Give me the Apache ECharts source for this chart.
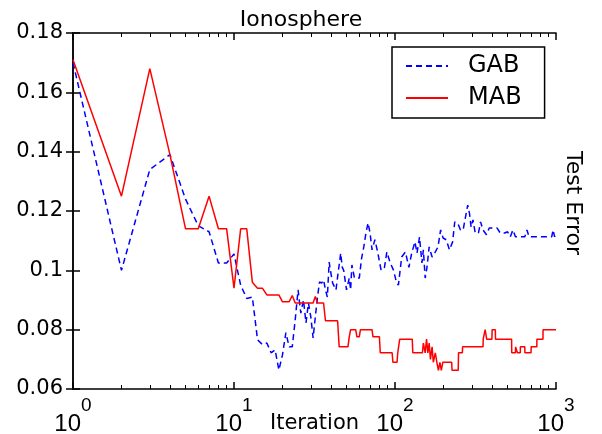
<!DOCTYPE html>
<html><head><meta charset="utf-8">
<script src="https://cdn.jsdelivr.net/npm/echarts@6/dist/echarts.min.js"></script>
<style>html,body{margin:0;padding:0;background:#fff;}#c{width:602px;height:434px;}</style>
</head><body><div id="c"></div>
<script>
const titleText = 'Ionosphere';
const xName = 'Iteration';
const yName = 'Test Error';
const seriesNames = ['GAB', 'MAB'];
const yMin = 0.06, yMax = 0.18, yStep = 0.02;
const xMin = 1, xMax = 1000;
const minorTickIters = [2,3,4,5,6,7,8,9,20,30,40,50,60,70,80,90,200,300,400,500,600,700,800,900];

const gabIter = [
  1,2,3,4,5,6,7,8,9,10,
  11,12,13,14,15,16,17,18,19,20,
  21,22,23,24,25,26,27,28,29,30,
  31,32,33,34,35,36,37,38,39,40,
  41,43,44,46,47,48,50,52,53,54,
  56,58,60,62,64,66,68,70,72,75,
  78,82,86,89,93,98,102,105,110,116,
  122,127,133,137,142,147,150,154,158,163,
  170,178,185,192,199,208,218,228,235,245,
  255,265,272,283,290,297,305,315,330,340,
  352,370,385,400,430,450,480,500,520,540,
  560,600,640,660,680,750,800,850,900,940,
  960,980,1000
];
const gabErr = [
  0.170,0.100,0.134,0.139,0.124,0.115,0.113,0.1025,0.1025,0.1055,
  0.095,0.0905,0.091,0.0766,0.075,0.0755,0.0722,0.0732,0.0664,0.0715,
  0.079,0.0742,0.0742,0.0833,0.0934,0.0856,0.090,0.0823,0.089,0.0843,
  0.0772,0.0843,0.091,0.0961,0.0957,0.0968,0.0934,0.091,0.1028,0.099,
  0.0957,0.0934,0.0978,0.1058,0.1011,0.100,0.0934,0.0974,0.0934,0.1018,
  0.0974,0.0974,0.0974,0.104,0.1079,0.1126,0.116,0.1126,0.1069,0.1103,
  0.1062,0.100,0.101,0.1062,0.1028,0.100,0.096,0.095,0.1045,0.1062,
  0.101,0.1058,0.1096,0.1058,0.1112,0.1025,0.1069,0.0974,0.101,0.1079,
  0.1045,0.1062,0.1079,0.1136,0.1109,0.1103,0.1069,0.1096,0.1163,0.116,
  0.1136,0.1136,0.117,0.122,0.1193,0.1146,0.117,0.1126,0.1126,0.1163,
  0.1136,0.112,0.1143,0.1143,0.1143,0.1126,0.1126,0.113,0.1113,0.1136,
  0.1113,0.1113,0.1113,0.1136,0.1113,0.1113,0.1113,0.1113,0.1113,0.1113,
  0.1136,0.1113,0.1125
];

const mabIter = [
  1,2,3,4,5,6,7,8,9,10,
  11,12,13,14,15,16,19,20,22,23,
  24,31,32,33,36,37,44,45,51,52,
  53,57,58,60,61,72,73,80,81,96,
  97,103,104,106,107,128,129,148,150,153,
  154,157,160,163,166,170,173,178,182,186,
  190,194,198,225,226,247,248,262,263,352,
  353,362,363,370,371,400,401,420,421,530,
  531,560,561,575,576,600,601,640,641,700,
  701,760,761,830,831,1000
];
const mabErr = [
  0.171,0.125,0.168,0.139,0.114,0.114,0.125,0.114,0.114,0.094,
  0.114,0.114,0.096,0.094,0.094,0.0917,0.0917,0.0894,0.0894,0.0915,
  0.089,0.089,0.0912,0.089,0.089,0.083,0.083,0.0742,0.0742,0.0776,
  0.080,0.080,0.0776,0.0776,0.080,0.080,0.0776,0.0776,0.0722,0.0722,
  0.069,0.069,0.0722,0.0722,0.0768,0.0768,0.0722,0.0722,0.0755,0.0755,
  0.0722,0.0768,0.0722,0.0755,0.070,0.0742,0.069,0.0722,0.069,0.0663,
  0.069,0.0663,0.069,0.069,0.0663,0.0663,0.0722,0.0722,0.0742,0.0742,
  0.0768,0.0768,0.080,0.080,0.0768,0.0768,0.080,0.080,0.0768,0.0768,
  0.0722,0.0722,0.0742,0.0742,0.0722,0.0722,0.0742,0.0742,0.0722,0.0722,
  0.0742,0.0742,0.0768,0.0768,0.080,0.080
];

const FONT = 'DejaVu Sans';
const black = '#000';
const lineW = 1.5;
const axLine = {show: true, lineStyle: {color: black, width: lineW}};
const majorTick = {show: true, inside: true, length: 7, lineStyle: {color: black, width: lineW}};
const minorTickExp = minorTickIters.map(v => Math.log10(v));

const chart = echarts.init(document.getElementById('c'), null, {renderer: 'canvas'});
chart.setOption({
  animation: false,
  backgroundColor: '#fff',
  title: {
    text: titleText, left: 'center', top: 4,
    textStyle: {fontFamily: FONT, fontSize: 22, fontWeight: 'normal', color: black}
  },
  legend: {
    data: seriesNames, orient: 'vertical', left: 392, top: 47,
    padding: [7, 23, 8, 13], itemGap: 8, itemWidth: 42, itemHeight: 14,
    borderColor: black, borderWidth: 1.5, backgroundColor: '#fff',
    itemStyle: {opacity: 0},
    textStyle: {fontFamily: FONT, fontSize: 24, lineHeight: 24, color: black, padding: [0, 0, 0, 15]}
  },
  grid: {left: 73, right: 46, top: 33, bottom: 45, outerBoundsMode: 'none', containLabel: false},
  xAxis: [
    {
      type: 'log', logBase: 10, min: xMin, max: xMax, position: 'bottom',
      axisLine: axLine, axisTick: majorTick, splitLine: {show: false},
      name: xName, nameLocation: 'middle', nameGap: 24, nameMoveOverlap: false,
      nameTextStyle: {fontFamily: FONT, fontSize: 21, color: black},
      axisLabel: {
        margin: 7, color: black,
        formatter: v => '{b|10}{s|' + Math.round(Math.log10(v)) + '}',
        rich: {
          b: {fontFamily: 'Liberation Sans', fontSize: 24, lineHeight: 40, verticalAlign: 'bottom', color: black},
          s: {fontFamily: 'Liberation Sans', fontSize: 19, lineHeight: 23, verticalAlign: 'top', color: black}
        }
      }
    },
    {
      type: 'log', logBase: 10, min: xMin, max: xMax, position: 'top',
      axisLine: axLine, axisTick: majorTick, axisLabel: {show: false}, splitLine: {show: false}
    },
    {
      type: 'value', min: 0, max: 3, position: 'bottom',
      axisLine: {show: false}, axisLabel: {show: false}, splitLine: {show: false},
      axisTick: {show: true, inside: true, length: 4, customValues: minorTickExp, lineStyle: {color: black, width: 1}}
    },
    {
      type: 'value', min: 0, max: 3, position: 'top',
      axisLine: {show: false}, axisLabel: {show: false}, splitLine: {show: false},
      axisTick: {show: true, inside: true, length: 4, customValues: minorTickExp, lineStyle: {color: black, width: 1}}
    }
  ],
  yAxis: [
    {
      type: 'value', min: yMin, max: yMax, interval: yStep, position: 'left',
      axisLine: axLine, axisTick: majorTick, splitLine: {show: false},
      axisLabel: {
        margin: 10, color: black, fontFamily: FONT, fontSize: 21,
        formatter: v => String(+v.toFixed(2))
      }
    },
    {
      type: 'value', min: yMin, max: yMax, interval: yStep, position: 'right',
      axisLine: axLine, axisTick: majorTick, splitLine: {show: false}, axisLabel: {show: false},
      name: yName, nameLocation: 'middle', nameRotate: -90, nameGap: 6, nameMoveOverlap: false,
      nameTextStyle: {fontFamily: FONT, fontSize: 22, color: black, padding: [0, 16, 0, 0]}
    }
  ],
  series: [
    {
      name: seriesNames[0], type: 'line', xAxisIndex: 0, yAxisIndex: 0,
      data: gabIter.map((x, i) => [x, gabErr[i]]),
      symbol: 'none', color: '#0000ff',
      lineStyle: {color: '#0000ff', width: 1.5, type: [6, 4]}
    },
    {
      name: seriesNames[1], type: 'line', xAxisIndex: 0, yAxisIndex: 0,
      data: mabIter.map((x, i) => [x, mabErr[i]]),
      symbol: 'none', color: '#ff0000',
      lineStyle: {color: '#ff0000', width: 1.5}
    }
  ]
});
</script></body></html>
